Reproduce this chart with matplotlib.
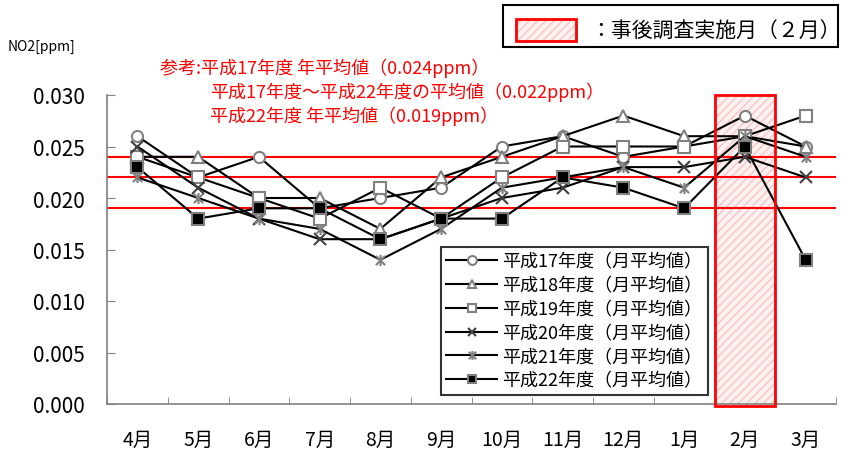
import matplotlib
matplotlib.use("Agg")
import matplotlib.pyplot as plt
from matplotlib.path import Path
from matplotlib.patches import Rectangle
import numpy as np

plt.rcParams['font.family'] = ['Noto Sans CJK JP', 'DejaVu Sans']

months = ["4月", "5月", "6月", "7月", "8月", "9月", "10月", "11月", "12月", "1月", "2月", "3月"]
yticks = [0.000, 0.005, 0.010, 0.015, 0.020, 0.025, 0.030]

h17 = [0.026, 0.022, 0.024, 0.019, 0.020, 0.021, 0.025, 0.026, 0.024, 0.025, 0.028, 0.025]
h18 = [0.024, 0.024, 0.020, 0.020, 0.017, 0.022, 0.024, 0.026, 0.028, 0.026, 0.026, 0.025]
h19 = [0.024, 0.022, 0.020, 0.018, 0.021, 0.018, 0.022, 0.025, 0.025, 0.025, 0.026, 0.028]
h20 = [0.025, 0.021, 0.018, 0.016, 0.016, 0.018, 0.020, 0.021, 0.023, 0.023, 0.024, 0.022]
h21 = [0.022, 0.020, 0.018, 0.017, 0.014, 0.017, 0.021, 0.022, 0.023, 0.021, 0.026, 0.024]
h22 = [0.023, 0.018, 0.019, 0.019, 0.016, 0.018, 0.018, 0.022, 0.021, 0.019, 0.025, 0.014]

series_labels = ["平成17年度（月平均値）", "平成18年度（月平均値）", "平成19年度（月平均値）",
                 "平成20年度（月平均値）", "平成21年度（月平均値）", "平成22年度（月平均値）"]

ref_levels = [0.024, 0.022, 0.019]
ref_texts = ["参考:平成17年度 年平均値（0.024ppm）",
             "平成17年度～平成22年度の平均値（0.022ppm）",
             "平成22年度 年平均値（0.019ppm）"]

survey_month = "2月"
survey_label = "：事後調査実施月（２月）"

# X with a vertical stroke (asterisk style marker)
star_path = Path([(-1, -1), (1, 1), (-1, 1), (1, -1), (0, -1.2), (0, 1.2)],
                 [Path.MOVETO, Path.LINETO, Path.MOVETO, Path.LINETO, Path.MOVETO, Path.LINETO])

gray = "#808080"
styles = [
    dict(marker="o", mfc="white", mec=gray, ms=8),
    dict(marker="^", mfc="white", mec=gray, ms=8),
    dict(marker="s", mfc="white", mec=gray, ms=8),
    dict(marker="x", mfc="none", mec="#404040", ms=8),
    dict(marker=star_path, mfc="none", mec=gray, ms=8),
    dict(marker="s", mfc="black", mec=gray, ms=8),
]

fig = plt.figure(figsize=(8.41, 4.56), dpi=100)
ax = fig.add_axes([107 / 841, (456 - 405) / 456, (836 - 107) / 841, (405 - 96) / 456])

x = np.arange(len(months))
sx = months.index(survey_month)

# survey month band
ax.bar(sx, 0.030, width=1.0, bottom=0, color="#fdf0f0", edgecolor="#f8c4c4",
       hatch="////", linewidth=0, zorder=1, clip_on=False)
ax.bar(sx, 0.0302, width=1.0, bottom=-0.0002, fill=False, edgecolor="red",
       linewidth=2, zorder=5, clip_on=False)

for lv in ref_levels:
    ax.axhline(lv, color="red", linewidth=1.5, zorder=2)

data = [h17, h18, h19, h20, h21, h22]
for vals, lab, st in zip(data, series_labels, styles):
    ax.plot(x, vals, color="black", linewidth=1.5, label=lab, markeredgewidth=1.5,
            zorder=3, **st)

ax.set_xlim(-0.5, len(months) - 0.5)
ax.set_ylim(0, 0.030)
ax.set_yticks(yticks)
ax.set_yticklabels([f"{v:.3f}" for v in yticks], fontsize=15)
ax.set_xticks(x)
ax.set_xticklabels(months, fontsize=14)
ax.set_xticks(np.arange(-0.5, len(months), 1.0), minor=True)
ax.tick_params(axis="x", which="major", length=0, pad=18)
ax.tick_params(axis="x", which="minor", direction="in", length=5, color=gray)
ax.tick_params(axis="y", direction="in", length=6, color=gray, pad=16)
for s in ["top", "right"]:
    ax.spines[s].set_visible(False)
for s in ["left", "bottom"]:
    ax.spines[s].set_color(gray)
    ax.spines[s].set_linewidth(1.2)

leg = ax.legend(loc="lower left", bbox_to_anchor=(441 / 841, (456 - 396) / 456),
                bbox_transform=fig.transFigure, fontsize=13, frameon=True,
                fancybox=False, edgecolor="black", handlelength=2.8,
                handletextpad=0.3, labelspacing=0.32, borderpad=0.3, borderaxespad=0,
                markerscale=0.8)
leg.get_frame().set_linewidth(1.5)
leg.set_zorder(6)

fig.text(8 / 841, 1 - 47 / 456, "NO2[ppm]", fontsize=10, va="center", ha="left")

ref_pos = [(160, 68), (210, 92), (210, 116)]
for (px, py), t in zip(ref_pos, ref_texts):
    fig.text(px / 841, 1 - py / 456, t, fontsize=13, color="red", va="center", ha="left")

# key box for the survey month band
fig.add_artist(Rectangle((503 / 841, 1 - 48 / 456), 335 / 841, 42 / 456,
                         transform=fig.transFigure, fill=False, edgecolor="black",
                         linewidth=1.5))
fig.add_artist(Rectangle((516 / 841, 1 - 42 / 456), 60 / 841, 22 / 456,
                         transform=fig.transFigure, facecolor="#fdf0f0",
                         edgecolor="#f8c4c4", hatch="////", linewidth=0))
fig.add_artist(Rectangle((516 / 841, 1 - 42 / 456), 60 / 841, 22 / 456,
                         transform=fig.transFigure, fill=False, edgecolor="red",
                         linewidth=2))
fig.text(590 / 841, 1 - 31 / 456, survey_label, fontsize=15, va="center", ha="left")

fig.savefig("out.png", dpi=100)
